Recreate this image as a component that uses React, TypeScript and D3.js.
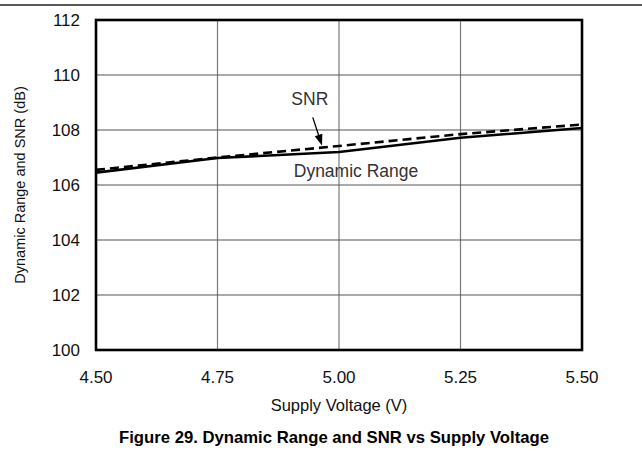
import * as d3 from "d3";

const voltage = [4.5, 4.75, 5.0, 5.25, 5.5];
const dynamicRange = [106.45, 106.98, 107.2, 107.72, 108.07];
const snr = [106.55, 107.0, 107.42, 107.85, 108.2];
const xTicks = [4.5, 4.75, 5.0, 5.25, 5.5];
const yTicks = [100, 102, 104, 106, 108, 110, 112];

const W = 642;
const H = 462;
const margin = { top: 20, right: 60, bottom: 112, left: 96 };
const font = "Arial, 'Liberation Sans', Helvetica, sans-serif";

export default function App() {
  const x = d3
    .scaleLinear()
    .domain([4.5, 5.5])
    .range([margin.left, W - margin.right]);
  const y = d3
    .scaleLinear()
    .domain([100, 112])
    .range([H - margin.bottom, margin.top]);

  const line = d3
    .line<number>()
    .x((_, i) => x(voltage[i]))
    .y((d) => y(d));

  const [x0, x1] = x.range();
  const [y0, y1] = y.range();

  // annotation arrow for SNR
  const arrowTip = { x: x(4.965), y: y(107.44) };
  const arrowTail = { x: x(4.946), y: y(108.46) };
  const ang = Math.atan2(arrowTip.y - arrowTail.y, arrowTip.x - arrowTail.x);
  const ah = 11;
  const aw = 4;
  const bx = arrowTip.x - ah * Math.cos(ang);
  const by = arrowTip.y - ah * Math.sin(ang);
  const head = [
    [arrowTip.x, arrowTip.y],
    [bx + aw * Math.sin(ang), by - aw * Math.cos(ang)],
    [bx - aw * Math.sin(ang), by + aw * Math.cos(ang)],
  ];

  return (
    <svg
      width={W}
      height={H}
      style={{ position: "absolute", left: 0, top: 0, background: "#fff" }}
      fontFamily={font}
    >
      <line x1={0} x2={W} y1={5} y2={5} stroke="#222" strokeWidth={1.5} />

      {xTicks.slice(1, -1).map((t) => (
        <line key={"gx" + t} x1={x(t)} x2={x(t)} y1={y1} y2={y0} stroke="#7a7a7a" strokeWidth={1.2} />
      ))}
      {yTicks.slice(1, -1).map((t) => (
        <line key={"gy" + t} x1={x0} x2={x1} y1={y(t)} y2={y(t)} stroke="#555" strokeWidth={1.2} />
      ))}

      <path d={line(dynamicRange) || ""} fill="none" stroke="#000" strokeWidth={2.6} />
      <path
        d={line(snr) || ""}
        fill="none"
        stroke="#000"
        strokeWidth={2.6}
        strokeDasharray="9,5"
      />

      <rect x={x0} y={y1} width={x1 - x0} height={y0 - y1} fill="none" stroke="#000" strokeWidth={2.6} />

      {yTicks.map((t) => (
        <text key={"ty" + t} x={x0 - 16} y={y(t)} dy="0.36em" textAnchor="end" fontSize={17} fill="#111">
          {t}
        </text>
      ))}
      {xTicks.map((t) => (
        <text key={"tx" + t} x={x(t)} y={y0 + 27} dy="0.36em" textAnchor="middle" fontSize={17} fill="#111">
          {d3.format(".2f")(t)}
        </text>
      ))}

      <text x={x(4.94)} y={y(108.9)} textAnchor="middle" fontSize={17.5} fill="#333">
        SNR
      </text>
      <line x1={arrowTail.x} y1={arrowTail.y} x2={bx} y2={by} stroke="#000" strokeWidth={1.3} />
      <polygon points={head.map((p) => p.join(",")).join(" ")} fill="#000" />
      <text x={x(5.035)} y={y(106.3)} textAnchor="middle" fontSize={17.5} fill="#333">
        Dynamic Range
      </text>

      <text
        transform={`translate(25,${(y0 + y1) / 2}) rotate(-90)`}
        textAnchor="middle"
        fontSize={14.5}
        fill="#111"
      >
        Dynamic Range and SNR (dB)
      </text>
      <text x={(x0 + x1) / 2} y={411} textAnchor="middle" fontSize={16.5} fill="#111">
        Supply Voltage (V)
      </text>
      <text x={334} y={443} textAnchor="middle" fontSize={16.7} fontWeight="bold" fill="#000">
        Figure 29. Dynamic Range and SNR vs Supply Voltage
      </text>
    </svg>
  );
}
